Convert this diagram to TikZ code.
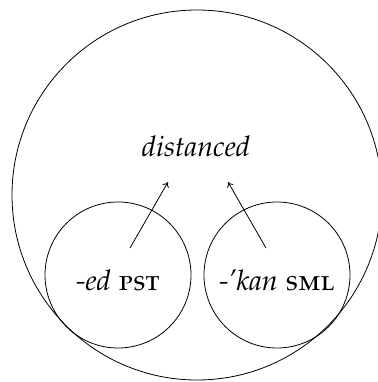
\documentclass[tikz,border=0pt]{standalone}
\usepackage[T1]{fontenc}
\usepackage[sc]{mathpazo}
\usetikzlibrary{arrows.meta}
\begin{document}
\begin{tikzpicture}[x=1pt,y=-1pt,
  ring/.style={circle,draw,line width=0.8pt,inner sep=0pt},
  lbl/.style={font=\fontsize{28.5}{34}\selectfont,inner sep=0pt,anchor=base},
  arr/.style={-{To[length=5pt,width=7pt]},line width=0.8pt}]
\useasboundingbox (0,0) rectangle (377,382);
\node[ring,minimum size=370] (big) at (197,195) {};
\node[ring,minimum size=146] (left) at (118,275) {};
\node[ring,minimum size=146] (right) at (277,275) {};
\node[lbl] (top) at (196,157) {\itshape distanced};
\node[lbl] (ed) at (118,290) {\itshape -ed \upshape\textsc{pst}};
\node[lbl] (kan) at (277,290) {\itshape -'kan \upshape\textsc{sml}};
\coordinate (s1) at (130,248);
\coordinate (e1) at (168,182);
\coordinate (s2) at (266,248);
\coordinate (e2) at (228,182);
\draw[arr] (s1) -- (e1);
\draw[arr] (s2) -- (e2);
\end{tikzpicture}
\end{document}
